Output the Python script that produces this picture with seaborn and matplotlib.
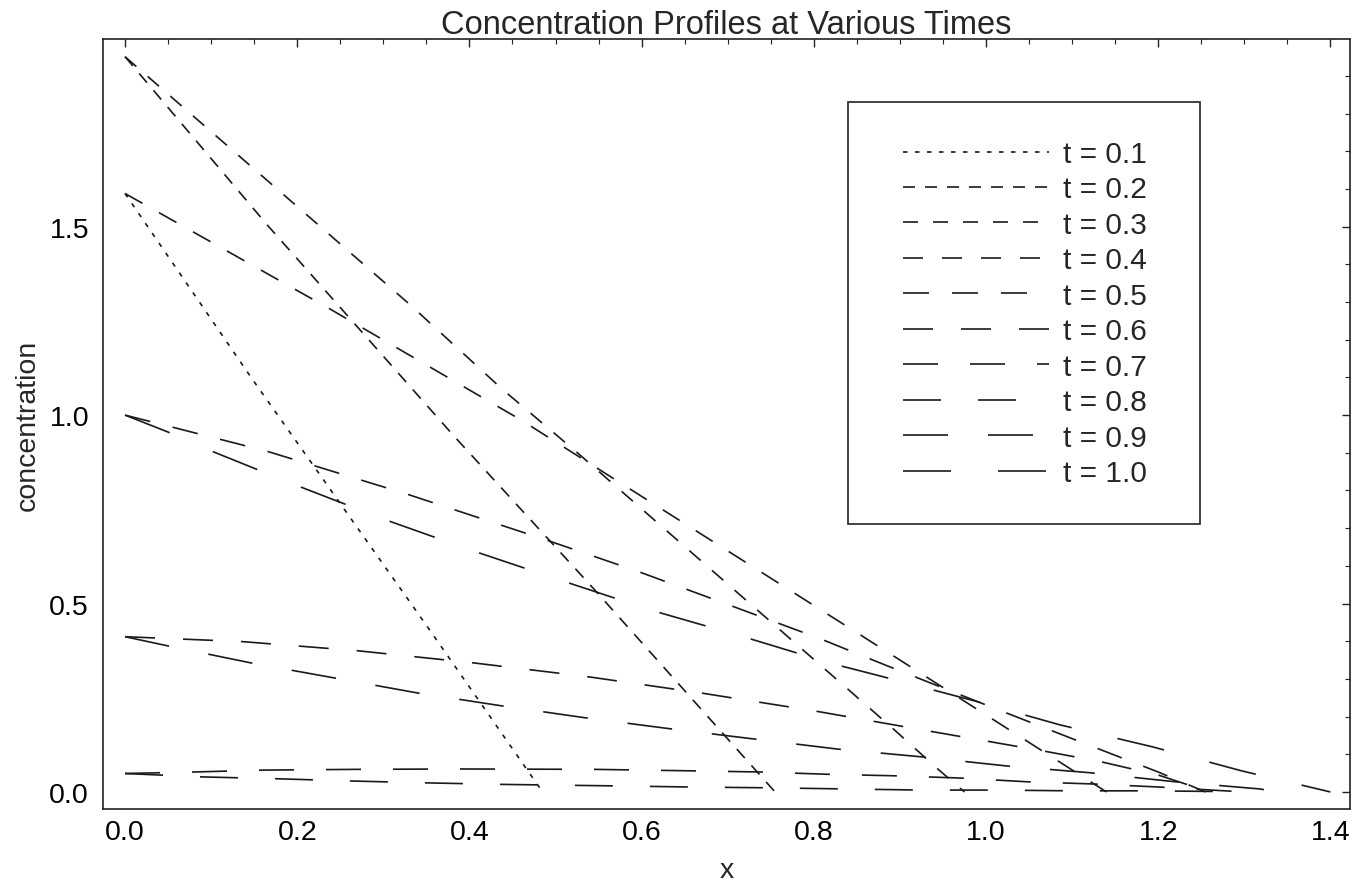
import numpy as np
import pandas as pd
import matplotlib
matplotlib.use("Agg")
import matplotlib.pyplot as plt
import seaborn as sns
from matplotlib.ticker import MultipleLocator, FormatStrFormatter
from matplotlib.patches import Rectangle

# ---------------- data ----------------
times = ["t = 0.1", "t = 0.2", "t = 0.3", "t = 0.4", "t = 0.5",
         "t = 0.6", "t = 0.7", "t = 0.8", "t = 0.9", "t = 1.0"]

x_t01 = [0.0, 0.147, 0.351, 0.485]
c_t01 = [1.588, 1.098, 0.439, 0.0]

x_t02 = [0.0, 0.165, 0.381, 0.544, 0.755]
c_t02 = [1.951, 1.505, 0.947, 0.540, 0.0]

x_t03 = [0.0, 0.331, 0.438, 0.528, 0.892, 0.944, 0.975]
c_t03 = [1.951, 1.293, 1.069, 0.895, 0.168, 0.061, 0.0]

x_t04 = [0.0, 0.24, 0.46, 0.885, 1.04, 1.14]
c_t04 = [1.588, 1.279, 0.987, 0.372, 0.146, 0.0]

x_t05 = [0.0, 0.165, 0.328, 0.49, 0.596, 0.703, 0.807, 0.885, 0.991, 1.095, 1.20, 1.255]
c_t05 = [1.0, 0.904, 0.790, 0.668, 0.585, 0.495, 0.407, 0.335, 0.239, 0.146, 0.053, 0.0]

x_t06 = [0.0, 0.136, 0.269, 0.403, 0.537, 0.668, 0.801, 0.933, 1.066, 1.13, 1.20, 1.26]
c_t06 = [0.412, 0.399, 0.375, 0.343, 0.306, 0.263, 0.215, 0.162, 0.109, 0.082, 0.045, 0.0]

x_t07 = [0.0, 0.08, 0.16, 0.27, 0.39, 0.544, 0.66, 0.738, 0.815, 0.892, 0.97, 1.048, 1.127, 1.202, 1.30]
c_t07 = [0.049, 0.053, 0.058, 0.060, 0.061, 0.060, 0.056, 0.053, 0.047, 0.043, 0.037, 0.027, 0.021, 0.013, 0.0]

x_t08 = [0.0, 0.089, 0.177, 0.265, 0.353, 0.44, 0.573, 0.661, 0.749, 0.837, 0.925, 1.014, 1.10, 1.19, 1.28]
c_t08 = [0.049, 0.040, 0.035, 0.029, 0.024, 0.020, 0.016, 0.013, 0.011, 0.008, 0.005, 0.005, 0.003, 0.003, 0.001]

x_t09 = [0.0, 0.049, 0.145, 0.242, 0.339, 0.436, 0.534, 0.632, 0.729, 0.827, 0.926, 1.024, 1.121, 1.22, 1.318, 1.34]
c_t09 = [0.412, 0.388, 0.343, 0.303, 0.263, 0.229, 0.197, 0.168, 0.141, 0.114, 0.093, 0.069, 0.051, 0.027, 0.008, 0.0]

x_t10 = [0.0, 0.05, 0.101, 0.202, 0.304, 0.4065, 0.511, 0.613, 0.718, 0.822, 0.875, 0.991, 1.086, 1.193, 1.297, 1.40]
c_t10 = [1.0, 0.955, 0.904, 0.811, 0.721, 0.638, 0.558, 0.481, 0.412, 0.340, 0.309, 0.239, 0.178, 0.120, 0.056, 0.0]

xs_all = [x_t01, x_t02, x_t03, x_t04, x_t05, x_t06, x_t07, x_t08, x_t09, x_t10]
cs_all = [c_t01, c_t02, c_t03, c_t04, c_t05, c_t06, c_t07, c_t08, c_t09, c_t10]

# ---------------- style ----------------
sns.set_style("white")
plt.rcParams["font.family"] = ["Liberation Sans", "DejaVu Sans"]
plt.rcParams["lines.scale_dashes"] = False

LINE_COLOR = "#1a1a1a"
PX = 72.0 / 100.0  # pixels -> points at dpi 100
dash_px = [(4.5, 7.5), (12, 10), (15, 15), (20, 19), (26, 23),
           (30, 28), (35, 32), (38, 37), (45, 40), (48, 47)]
dashes = {lab: (d * PX, g * PX) for lab, (d, g) in zip(times, dash_px)}

df = pd.concat([pd.DataFrame({"x": xs, "c": cs, "t": lab})
                for lab, xs, cs in zip(times, xs_all, cs_all)], ignore_index=True)

fig = plt.figure(figsize=(13.54, 8.87), dpi=100)
W, H = 1354.0, 887.0
ax = fig.add_axes([103 / W, 1 - 810 / H, (1350 - 103) / W, (810 - 40) / H])

sns.lineplot(data=df, x="x", y="c", style="t", style_order=times, dashes=dashes,
             color=LINE_COLOR, linewidth=1.2, estimator=None, sort=False, ax=ax)

ax.set_xlim(-0.0256, 1.4228)
ax.set_ylim(-0.0452, 1.998)

ax.xaxis.set_major_locator(MultipleLocator(0.2))
ax.xaxis.set_minor_locator(MultipleLocator(0.05))
ax.yaxis.set_major_locator(MultipleLocator(0.5))
ax.yaxis.set_minor_locator(MultipleLocator(0.1))
ax.xaxis.set_major_formatter(FormatStrFormatter("%.1f"))
ax.yaxis.set_major_formatter(FormatStrFormatter("%.1f"))

ax.tick_params(which="both", direction="in", top=True, right=True, colors="#222222")
ax.tick_params(which="major", length=6, width=1.0, labelsize=20.5)
ax.tick_params(which="minor", length=3.5, width=0.8)
ax.tick_params(axis="y", which="major", pad=10)
ax.tick_params(axis="x", which="major", pad=7)
for lab in ax.get_xticklabels() + ax.get_yticklabels():
    lab.set_color("black")

for sp in ax.spines.values():
    sp.set_color("#222222")
    sp.set_linewidth(1.2)

ax.set_title("Concentration Profiles at Various Times", fontsize=23.5, pad=4)
ax.set_xlabel("x", fontsize=20.5)
ax.set_ylabel("concentration", fontsize=20.5)
ax.xaxis.set_label_coords(0.5, (810 - 858) / 770)
ax.yaxis.set_label_coords((41 - 103) / 1247, 0.5)

# legend
handles, labels = ax.get_legend_handles_labels()
pairs = [(h, l) for h, l in zip(handles, labels) if l in times]
handles = [p[0] for p in pairs]
labels = [p[1] for p in pairs]
for h in handles:
    h.set_color(LINE_COLOR)
    h.set_linewidth(1.2)
ax.legend(handles, labels, loc="upper left",
          bbox_to_anchor=((903 - 103) / 1247, (810 - 141) / 770),
          frameon=False, fontsize=21.5, handlelength=4.9, handletextpad=0.45,
          labelspacing=0.25, borderpad=0, borderaxespad=0)

ax.add_patch(Rectangle(((848 - 103) / 1247, (810 - 525) / 770),
                       (1200 - 848) / 1247, (525 - 103) / 770,
                       transform=ax.transAxes, fill=False, edgecolor="#222222",
                       linewidth=1.2, zorder=5))

fig.savefig("out.png", dpi=100)
